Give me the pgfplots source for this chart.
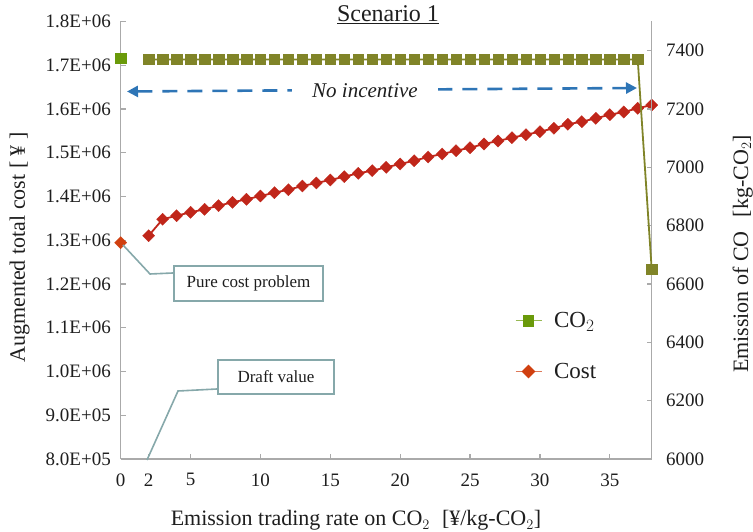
\documentclass[border=0pt]{standalone}
\usepackage{pgfplots}
\pgfplotsset{compat=1.18}
\usepackage{pgfplotstable}
\usepackage{fontspec}
\setmainfont{Liberation Serif}
\usetikzlibrary{arrows.meta}
\definecolor{olivec}{RGB}{128,132,40}
\definecolor{cogreen}{RGB}{106,154,10}
\definecolor{costred}{RGB}{192,38,26}
\definecolor{costorange}{RGB}{208,64,16}
\definecolor{axgray}{RGB}{170,170,170}
\definecolor{callout}{RGB}{134,168,170}
\definecolor{arrowblue}{RGB}{46,117,182}
\definecolor{txt}{RGB}{30,30,30}

\pgfplotstableread{
x y
2 1310400
3 1347900
4 1356100
5 1363900
6 1370700
7 1379000
8 1386700
9 1393600
10 1401100
11 1408700
12 1415500
13 1424000
14 1430900
15 1437700
16 1445300
17 1453000
18 1459000
19 1466700
20 1474300
21 1481800
22 1490300
23 1497100
24 1504700
25 1511500
26 1520000
27 1526900
28 1534400
29 1541300
30 1548100
31 1555900
32 1565000
33 1571000
34 1578700
35 1587000
36 1593100
37 1601600
38 1609100
}\costdata

\pgfplotstableread{
x y
2 7370
3 7370
4 7370
5 7370
6 7370
7 7370
8 7370
9 7370
10 7370
11 7370
12 7370
13 7370
14 7370
15 7370
16 7370
17 7370
18 7370
19 7370
20 7370
21 7370
22 7370
23 7370
24 7370
25 7370
26 7370
27 7370
28 7370
29 7370
30 7370
31 7370
32 7370
33 7370
34 7370
35 7370
36 7370
37 7370
38 6650
}\codata

\begin{document}
\begin{tikzpicture}
\useasboundingbox (0pt,0pt) rectangle (753pt,532pt);
\pgfplotsset{
  every axis/.append style={
    scale only axis, width=531pt, height=437.5pt,
    at={(120.7pt,73pt)}, anchor=south west,
    xmin=0, xmax=38, clip=false,
    axis line style={axgray, line width=1.2pt, -},
    tick style={axgray, line width=1.2pt},
    tick align=inside, major tick length=5pt,
    ticklabel style={font=\fontsize{19}{19}\selectfont, text=txt},
    /pgf/number format/assume math mode=true,
  }
}
\begin{axis}[
  axis x line*=bottom, axis y line*=left,
  ymin=800000, ymax=1800000,
  xtick={0,2,5,10,15,20,25,30,35},
  ytick={800000,900000,1000000,1100000,1200000,1300000,1400000,1500000,1600000,1700000,1800000},
  yticklabels={8.0E+05,9.0E+05,1.0E+06,1.1E+06,1.2E+06,1.3E+06,1.4E+06,1.5E+06,1.6E+06,1.7E+06,1.8E+06},
  scaled y ticks=false,
  xticklabel style={yshift=-11pt},
  yticklabel style={xshift=-6.4pt},
]
\addplot[costred, line width=1.8pt, mark=square*, mark size=4.3pt,
  mark options={rotate=45, fill=costred, draw=costred, line width=0.3pt}] table {\costdata};
\addplot[only marks, mark=square*, mark size=4.3pt,
  mark options={rotate=45, fill=costorange, draw=costorange, line width=0.3pt}] coordinates {(0,1294400)};
\end{axis}

\begin{axis}[
  axis x line=none, axis y line*=right,
  ymin=6000, ymax=7500,
  ytick={6000,6200,6400,6600,6800,7000,7200,7400},
  /pgf/number format/1000 sep={},
  yticklabel style={xshift=11pt},
  legend style={at={(0.742,0.34)}, anchor=north west, draw=none, fill=none,
    font=\fontsize{23}{23}\selectfont, text=txt, row sep=30pt,
    inner sep=0pt},
  legend cell align=left,
  legend image code/.code={\draw[mark repeat=2,mark phase=2,#1] plot coordinates {(0pt,0pt) (13pt,0pt) (26pt,0pt)};\path (36pt,0pt);},
]
\addplot[forget plot, olivec, line width=1.8pt, mark=square*, mark size=5.2pt,
  mark options={fill=olivec, draw=olivec, line width=0.3pt}] table {\codata};
\addplot[forget plot, only marks, mark=square*, mark size=5.2pt,
  mark options={fill=cogreen, draw=cogreen, line width=0.3pt}] coordinates {(0,7375)};
\addlegendimage{cogreen!70, line width=1.2pt, mark=square*, mark size=5.2pt, mark options={fill=cogreen, draw=cogreen}}
\addlegendentry{CO$_2$}
\addlegendimage{costorange!70, line width=1.2pt, mark=square*, mark size=4.3pt, mark options={rotate=45, fill=costorange, draw=costorange}}
\addlegendentry{Cost}
\end{axis}

% title
\node[anchor=base, font=\fontsize{24}{24}\selectfont, text=txt] at (388pt,510pt) {\underline{Scenario 1}};
% axis labels
\node[anchor=base, font=\fontsize{22}{22}\selectfont, text=txt] at (356pt,6pt) {Emission trading rate on CO$_2$\hspace{12pt}[¥/kg-CO$_2$]};
\node[anchor=base, rotate=90, font=\fontsize{22}{22}\selectfont, text=txt] at (25pt,284.5pt) {Augmented total cost [ ¥ ]};
\node[anchor=base, rotate=90, font=\fontsize{22}{22}\selectfont, text=txt] at (748pt,278pt) {Emission of CO\hspace{14pt}[kg-CO$_2$]};

% no incentive arrow
\draw[arrowblue, line width=2.6pt, dash pattern=on 15pt off 10pt,
  {Triangle[length=11pt,width=11pt]}-{Triangle[length=11pt,width=11pt]}] (127pt,440.5pt) -- (637pt,444pt);
\node[fill=white, inner xsep=20pt, inner ysep=1pt, font=\itshape\fontsize{21}{21}\selectfont, text=txt] at (365pt,441pt) {No incentive};

% callouts
\draw[callout, line width=1.6pt] (123pt,287pt) -- (150pt,258pt) -- (173pt,259pt);
\node[draw=callout, line width=2pt, fill=white, anchor=north west, minimum width=149pt, minimum height=35pt,
  font=\fontsize{17}{17}\selectfont, text=txt] at (173pt,267pt) {Pure cost problem};
\draw[callout, line width=1.6pt] (147pt,72pt) -- (178pt,141pt) -- (217pt,143pt);
\node[draw=callout, line width=2pt, fill=white, anchor=north west, minimum width=116pt, minimum height=34pt,
  font=\fontsize{17}{17}\selectfont, text=txt] at (217pt,173pt) {Draft value};
\end{tikzpicture}
\end{document}
